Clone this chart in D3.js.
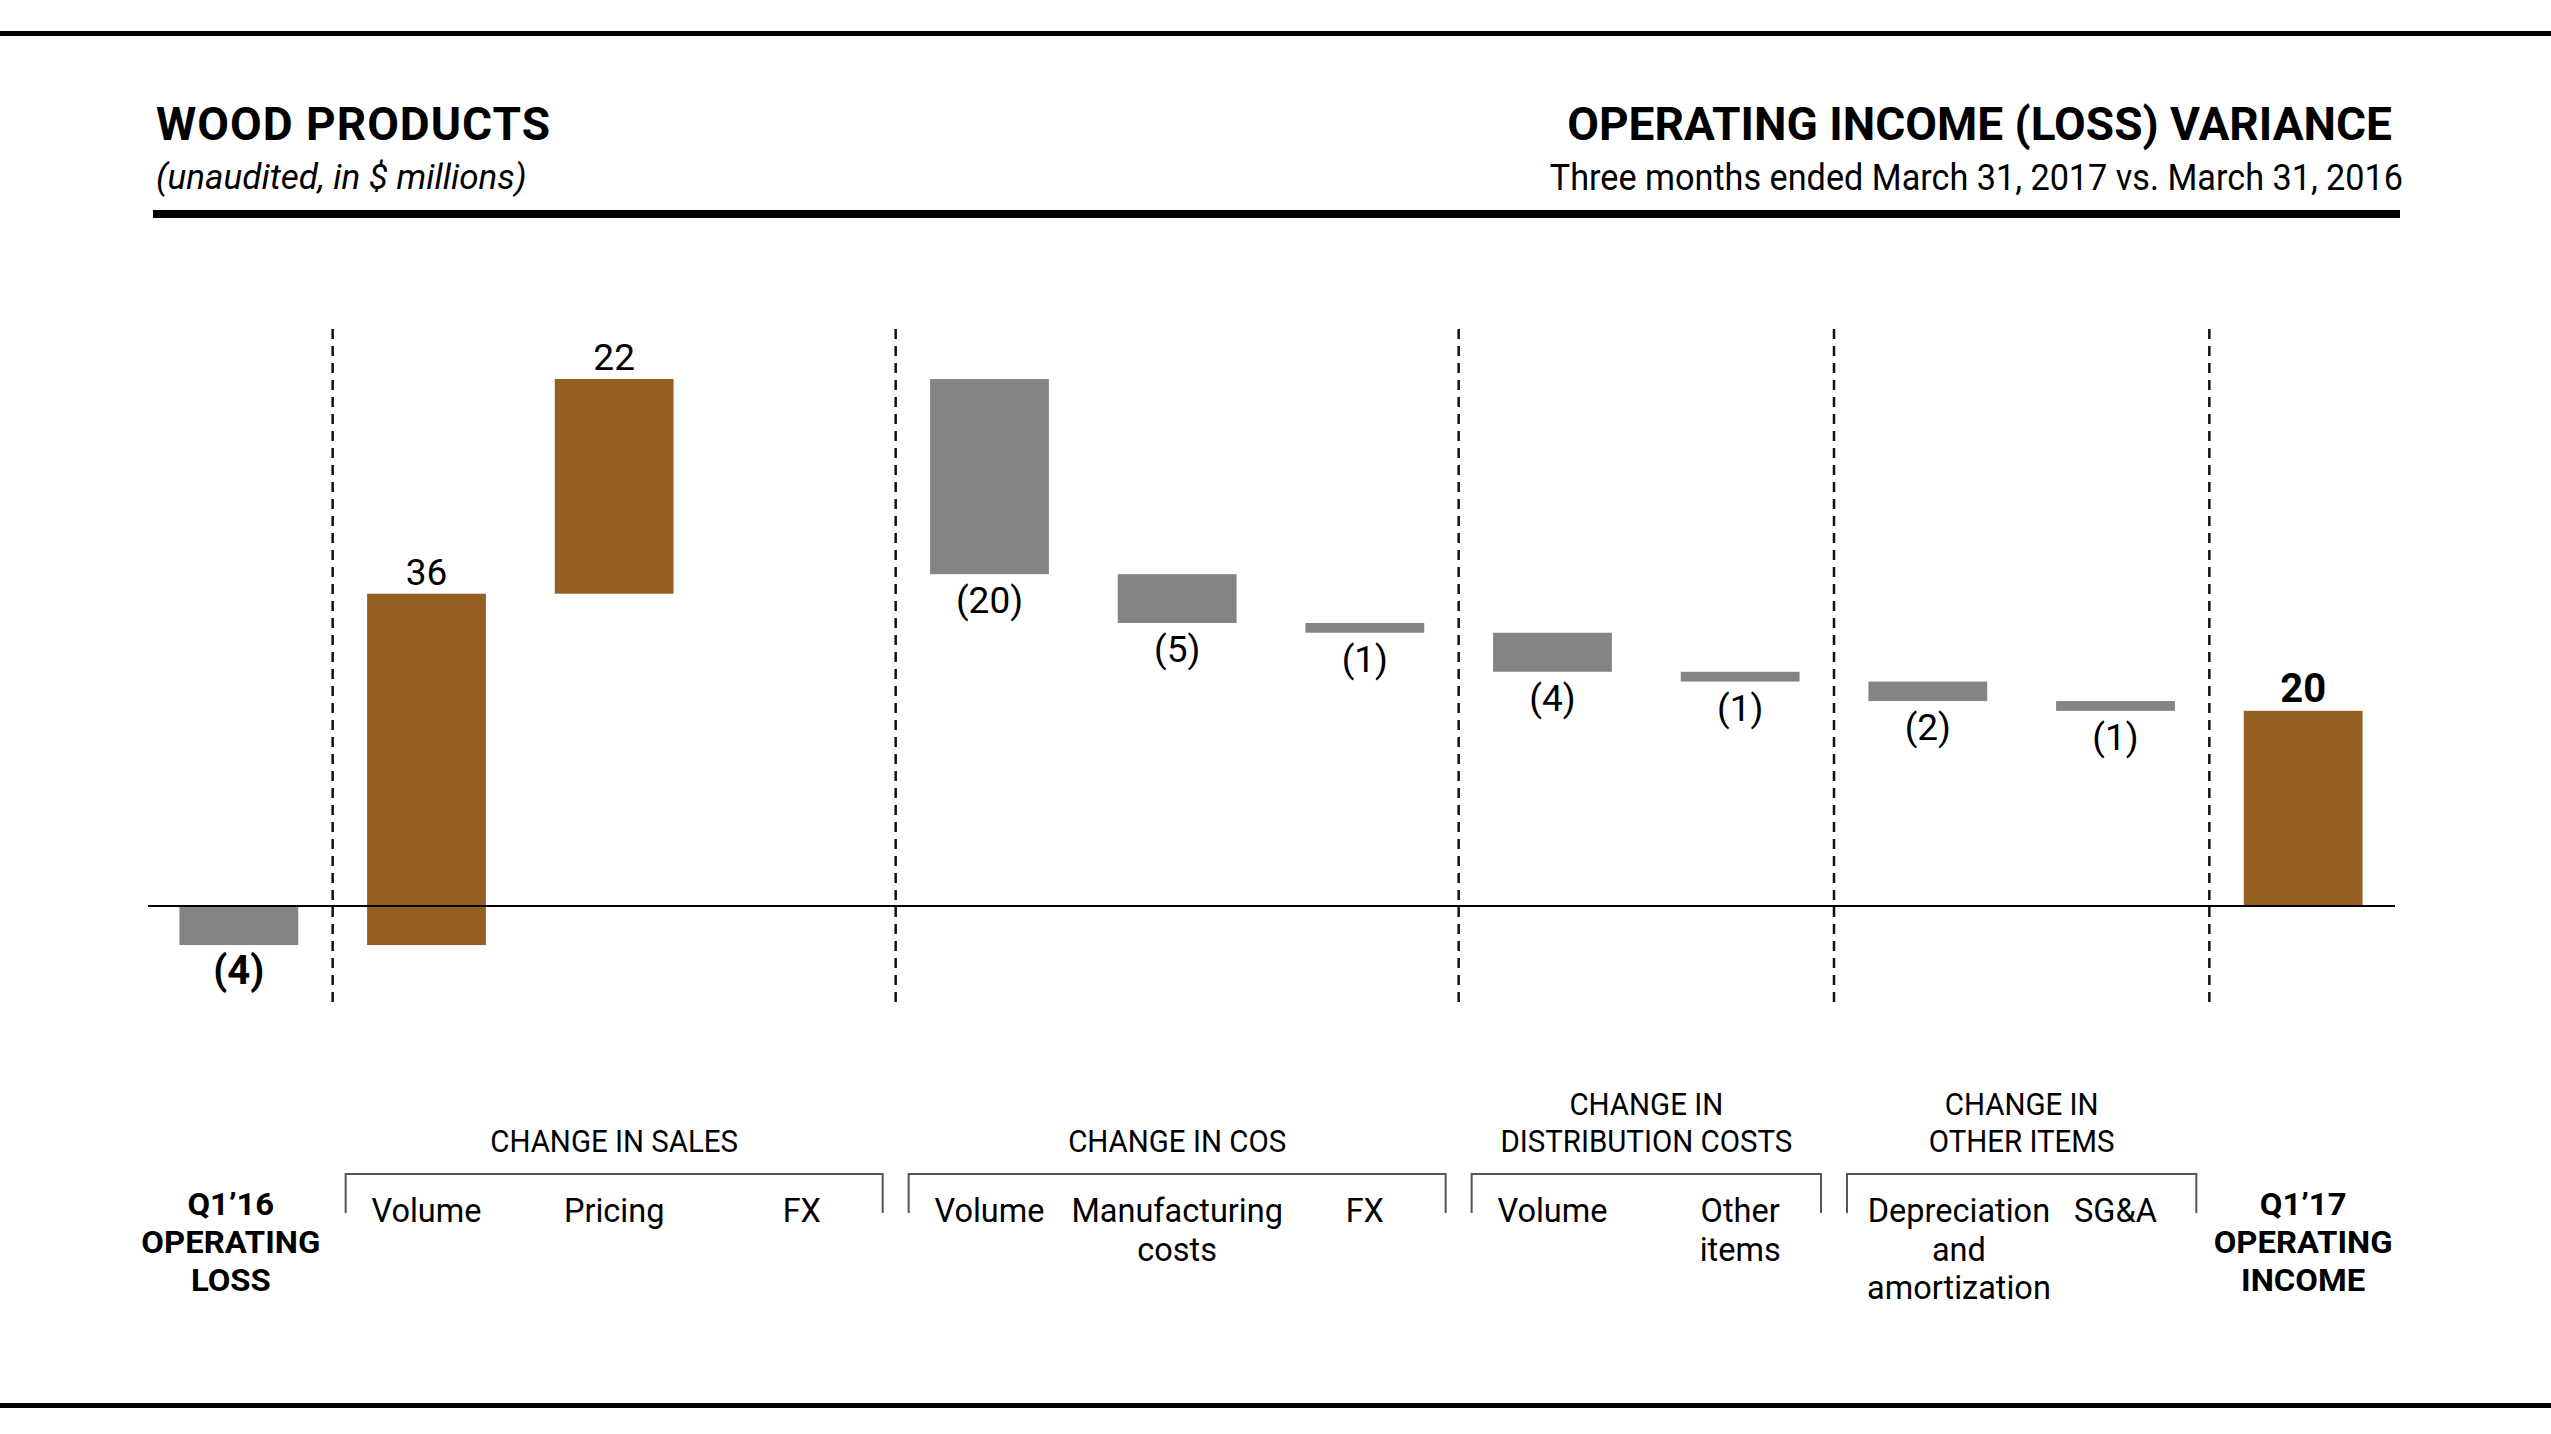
<!DOCTYPE html>
<html>
<head>
<meta charset="utf-8">
<script src="https://cdn.jsdelivr.net/npm/d3@7"></script>
<style>
  body { margin: 0; background: #fff; }
  svg { display: block; font-family: "Roboto", "Liberation Sans", sans-serif; }
</style>
</head>
<body>
<div id="chart"></div>
<script>
// bar labels (multi-line) in order
const categories = [
  ["Q1\u201916", "OPERATING", "LOSS"],
  ["Volume"], ["Pricing"], ["FX"],
  ["Volume"], ["Manufacturing", "costs"], ["FX"],
  ["Volume"], ["Other", "items"],
  ["Depreciation", "and", "amortization"], ["SG&A"],
  ["Q1\u201917", "OPERATING", "INCOME"]
]
const values = [-4, 36, 22, 0, -20, -5, -1, -4, -1, -2, -1, 20]
const isTotal = [true, false, false, false, false, false, false, false, false, false, false, true]

const groupNames = [["CHANGE IN SALES"], ["CHANGE IN COS"], ["CHANGE IN", "DISTRIBUTION COSTS"], ["CHANGE IN", "OTHER ITEMS"]]
const groupStart = [1, 4, 7, 9]
const groupEnd = [3, 6, 8, 10]

const brown = "#955f22"
const grey = "#848484"

const W = 2551, H = 1434

// squeeze text sideways, the original face is a condensed one
function condense(sel, f) {
  sel.each(function () {
    const w = this.getComputedTextLength()
    d3.select(this).attr("textLength", w * f).attr("lengthAdjust", "spacingAndGlyphs")
  })
}

// running totals for the waterfall
let run = 0
const bars = values.map((v, i) => {
  let y0, y1
  if (isTotal[i]) { y0 = 0; y1 = v; run = v }
  else { y0 = run; y1 = run + v; run = y1 }
  return { i, v, y0, y1, total: isTotal[i] }
})

const svg = d3.select("#chart").append("svg")
  .attr("width", W).attr("height", H)

// header
svg.append("rect").attr("x", 0).attr("y", 31).attr("width", W).attr("height", 5).attr("fill", "#000")
svg.append("rect").attr("x", 0).attr("y", 1403).attr("width", W).attr("height", 5).attr("fill", "#000")
svg.append("rect").attr("x", 153).attr("y", 210).attr("width", 2247).attr("height", 8).attr("fill", "#000")

svg.append("text").attr("x", 156).attr("y", 140)
  .attr("font-size", 46).attr("font-weight", "bold").attr("letter-spacing", 1).text("WOOD PRODUCTS")
svg.append("text").attr("x", 156).attr("y", 189)
  .attr("font-size", 35).attr("font-style", "italic").text("(unaudited, in $ millions)")
svg.append("text").attr("x", 2392).attr("y", 140).attr("text-anchor", "end")
  .attr("font-size", 46).attr("font-weight", "bold").text("OPERATING INCOME (LOSS) VARIANCE")
svg.append("text").attr("x", 2403).attr("y", 190).attr("text-anchor", "end")
  .attr("font-size", 36).text("Three months ended March 31, 2017 vs. March 31, 2016")
  .call(condense, 0.95)

const x = d3.scaleBand()
  .domain(d3.range(values.length))
  .range([145, 2397])
  .paddingInner(0.367)
  .paddingOuter(0.1835)

const y = d3.scaleLinear().domain([0, 54]).range([906, 379])

const step = x.step()
const bw = x.bandwidth()
const cx = (i) => x(i) + bw / 2

// dashed separators between groups
const seps = [0].concat(groupEnd)
svg.append("g").selectAll("line")
  .data(seps)
  .join("line")
  .attr("x1", (d) => cx(d) + step / 2)
  .attr("x2", (d) => cx(d) + step / 2)
  .attr("y1", 329).attr("y2", 1002)
  .attr("stroke", "#111").attr("stroke-width", 2.5)
  .attr("stroke-dasharray", "10,7")

// bars
svg.append("g").selectAll("rect")
  .data(bars.filter((d) => d.v !== 0))
  .join("rect")
  .attr("x", (d) => x(d.i))
  .attr("width", bw)
  .attr("y", (d) => y(Math.max(d.y0, d.y1)))
  .attr("height", (d) => Math.abs(y(d.y0) - y(d.y1)))
  .attr("fill", (d) => d.v > 0 ? brown : grey)

// zero line
svg.append("line")
  .attr("x1", 148).attr("x2", 2395)
  .attr("y1", y(0)).attr("y2", y(0))
  .attr("stroke", "#000").attr("stroke-width", 2)

// value labels
svg.append("g").selectAll("text")
  .data(bars.filter((d) => d.v !== 0))
  .join("text")
  .attr("x", (d) => cx(d.i))
  .attr("y", (d) => d.v > 0 ? y(Math.max(d.y0, d.y1)) - 9 : y(Math.min(d.y0, d.y1)) + 39)
  .attr("text-anchor", "middle")
  .attr("font-size", (d) => d.total ? 40 : 37)
  .attr("font-weight", (d) => d.total ? "bold" : "normal")
  .text((d) => d.v < 0 ? `(${-d.v})` : d.v)

// group brackets
const inset = 13
groupStart.forEach((s, g) => {
  const left = cx(s) - step / 2 + inset
  const right = cx(groupEnd[g]) + step / 2 - inset
  svg.append("path")
    .attr("d", `M${left},1213V1174H${right}V1213`)
    .attr("fill", "none").attr("stroke", "#555").attr("stroke-width", 2)
  const lines = groupNames[g]
  lines.forEach((ln, k) => {
    svg.append("text")
      .attr("text-anchor", "middle")
      .attr("font-size", 31)
      .attr("x", (left + right) / 2)
      .attr("y", 1152 - (lines.length - 1 - k) * 37)
      .text(ln)
      .call(condense, 0.95)
  })
})

// category labels, one text per line
categories.forEach((lines, i) => {
  const total = isTotal[i]
  const texts = lines.map((ln, k) => svg.append("text")
    .attr("text-anchor", "middle")
    .attr("font-size", total ? 31 : 33.5)
    .attr("font-weight", total ? "bold" : "normal")
    .attr("x", cx(i) + (i === 0 ? -8 : 0))
    .attr("y", (total ? 1215 : 1222) + k * (total ? 38 : 38.5))
    .text(ln)
    .call(condense, total ? 1.06 : 0.97))
  if (!total) {
    // keep wide labels inside their bracket
    const g = groupStart.findIndex((s, gi) => i >= s && i <= groupEnd[gi])
    const left = cx(groupStart[g]) - step / 2 + inset + 20
    const half = d3.max(texts, (t) => t.node().getBBox().width) / 2
    if (cx(i) - half < left) {
      texts.forEach((t) => t.attr("x", left + half))
    }
  }
})
</script>
</body>
</html>
